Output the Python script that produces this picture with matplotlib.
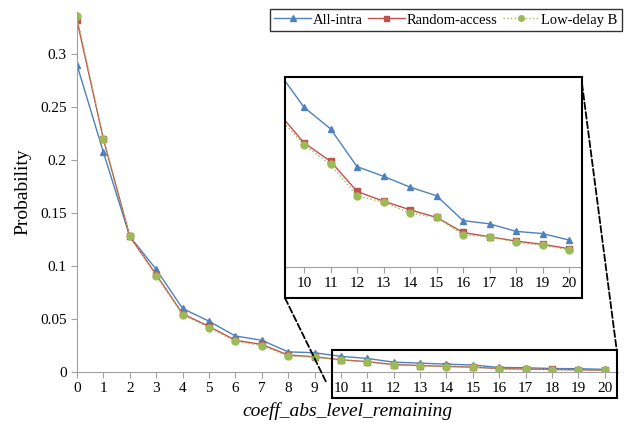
import matplotlib
matplotlib.use("Agg")
import matplotlib.pyplot as plt
from matplotlib.patches import Rectangle, ConnectionPatch

# values
levels = list(range(21))
all_intra = [0.290, 0.2075, 0.128, 0.097, 0.060, 0.048, 0.034, 0.030, 0.019, 0.0182,
             0.0148, 0.0128, 0.0093, 0.0084, 0.0074, 0.0066, 0.0043, 0.0040, 0.0033, 0.0031, 0.0025]
random_access = [0.332, 0.220, 0.128, 0.092, 0.055, 0.043, 0.030, 0.026, 0.016, 0.0144,
                 0.0115, 0.0098, 0.0070, 0.0061, 0.0053, 0.0046, 0.0032, 0.0028, 0.0024, 0.0021, 0.0017]
low_delay_b = [0.336, 0.220, 0.128, 0.091, 0.054, 0.042, 0.029, 0.025, 0.015, 0.0140,
               0.0113, 0.0095, 0.0066, 0.0060, 0.0050, 0.0046, 0.0030, 0.0028, 0.0023, 0.0020, 0.0016]
yticks = [0, 0.05, 0.1, 0.15, 0.2, 0.25, 0.3]
ytick_labels = ["0", "0.05", "0.1", "0.15", "0.2", "0.25", "0.3"]
zoom_ticks = list(range(10, 21))

plt.rcParams['font.family'] = ['Liberation Serif', 'DejaVu Serif']

blue = '#4F81BD'
red = '#C0504D'
green = '#9BBB59'
gray = '#A0A0A0'

fig = plt.figure(figsize=(6.24, 4.32), dpi=100)
ax = fig.add_axes([77/624, 60/432, 541/624, 360/432])

def draw_series(a):
    a.plot(levels, all_intra, color=blue, lw=1, marker='^', ms=5, label='All-intra')
    a.plot(levels, random_access, color=red, lw=1, marker='s', ms=4.5, label='Random-access')
    a.plot(levels, low_delay_b, color=green, lw=1, ls=':', marker='o', ms=5, label='Low-delay B')

draw_series(ax)
ax.set_xlim(0, 20.5)
ax.set_ylim(0, 0.34)
ax.set_xticks(levels)
ax.set_yticks(yticks)
ax.set_yticklabels(ytick_labels)
for s in ['top', 'right']:
    ax.spines[s].set_visible(False)
for s in ['left', 'bottom']:
    ax.spines[s].set_color(gray)
ax.tick_params(colors=gray, labelcolor='black', labelsize=11, length=4)
ax.set_ylabel('Probability', fontsize=14, labelpad=6)
ax.set_xlabel('coeff_abs_level_remaining', fontsize=14, style='italic', labelpad=5)

# box around the zoomed region
ax.add_patch(Rectangle((9.66, -0.0245), 20.45 - 9.66, 0.0453, fill=False,
                       ec='black', lw=1.5, clip_on=False, zorder=5))

# inset
axin = fig.add_axes([285/624, 134/432, 297/624, 221/432])
draw_series(axin)
axin.set_xlim(9.283, 20.49)
axin.set_ylim(-0.00287, 0.0176)
axin.set_xticks([])
axin.set_yticks([])
for s in axin.spines.values():
    s.set_color('black')
    s.set_linewidth(1.5)
sec = axin.secondary_xaxis(31/221)
sec.set_xticks(zoom_ticks)
sec.spines['bottom'].set_color(gray)
sec.tick_params(colors=gray, labelcolor='black', labelsize=11, length=4)

# dashed connectors
for xyA, xyB in [((0, 0), (9.45, -0.01)), ((1, 0.97), (20.45, 0.0208))]:
    con = ConnectionPatch(xyA=xyA, coordsA=axin.transAxes, xyB=xyB, coordsB=ax.transData,
                          ls='--', lw=1.3, color='black')
    fig.add_artist(con)

handles, labels = ax.get_legend_handles_labels()
fig.legend(handles, labels, loc='upper right', bbox_to_anchor=(622/624, 1 - 9/432), ncol=3,
           frameon=True, fancybox=False, edgecolor='black', fontsize=10.5,
           handlelength=2.5, columnspacing=0.35, handletextpad=0.15,
           borderpad=0.3, borderaxespad=0, markerscale=0.8)

fig.savefig('out.png', dpi=100)
